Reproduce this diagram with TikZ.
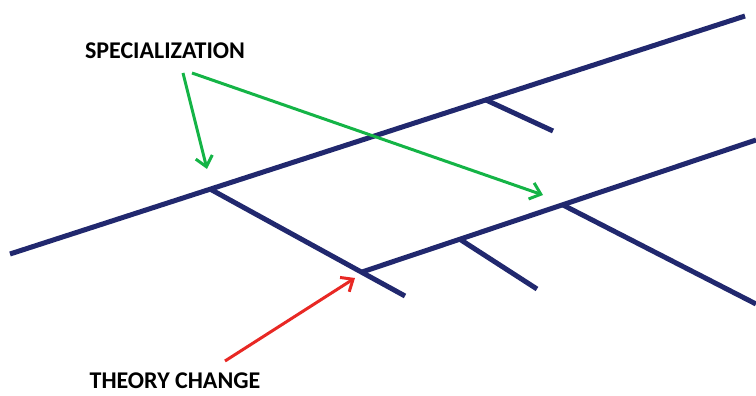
\documentclass[tikz,border=0pt]{standalone}
\usepackage{fontspec}
\setmainfont{Carlito}
\usetikzlibrary{arrows.meta}
\definecolor{navy}{RGB}{33,40,110}
\definecolor{sgreen}{RGB}{20,180,70}
\definecolor{sred}{RGB}{232,40,36}
\tikzset{
  trunk/.style={navy, line width=5pt},
  garrow/.style={sgreen, line width=3pt, -{Straight Barb[length=10pt,width=17pt,line width=3pt]}},
  rarrow/.style={sred, line width=3pt, -{Straight Barb[length=10pt,width=17pt,line width=3pt]}},
  lbl/.style={font=\bfseries\fontsize{24}{26}\selectfont, text=black, inner sep=0pt}
}
\begin{document}
\begin{tikzpicture}[x=1pt,y=-1pt]
\useasboundingbox (0,0) rectangle (756,396);
% coordinates
\coordinate (L1a) at (10,254);
\coordinate (L1b) at (745,16);
\coordinate (B1a) at (210,189);
\coordinate (B1b) at (405,296);
\coordinate (B2a) at (486,100);
\coordinate (B2b) at (553,131);
\coordinate (L2a) at (362,272);
\coordinate (L2b) at (756,140);
\coordinate (B3a) at (461,240);
\coordinate (B3b) at (537,289);
\coordinate (B4a) at (563,205);
\coordinate (B4b) at (756,304);
% lines
\draw[trunk] (L1a) -- (L1b);
\draw[trunk] (B1a) -- (B1b);
\draw[trunk] (B2a) -- (B2b);
\draw[trunk] (L2a) -- (L2b);
\draw[trunk] (B3a) -- (B3b);
\draw[trunk] (B4a) -- (B4b);
% labels
\node[lbl] (spec) at (165,51) {SPECIALIZATION};
\node[lbl] (theo) at (175,381) {THEORY CHANGE};
% arrows
\coordinate (gs1) at (183,73);
\coordinate (gt1) at (207,169);
\coordinate (gs2) at (192,73);
\coordinate (gt2) at (543,195);
\coordinate (rs) at (225,361);
\coordinate (rt) at (355,278);
\draw[garrow] (gs1) -- (gt1);
\draw[garrow] (gs2) -- (gt2);
\draw[rarrow] (rs) -- (rt);
\end{tikzpicture}
\end{document}
